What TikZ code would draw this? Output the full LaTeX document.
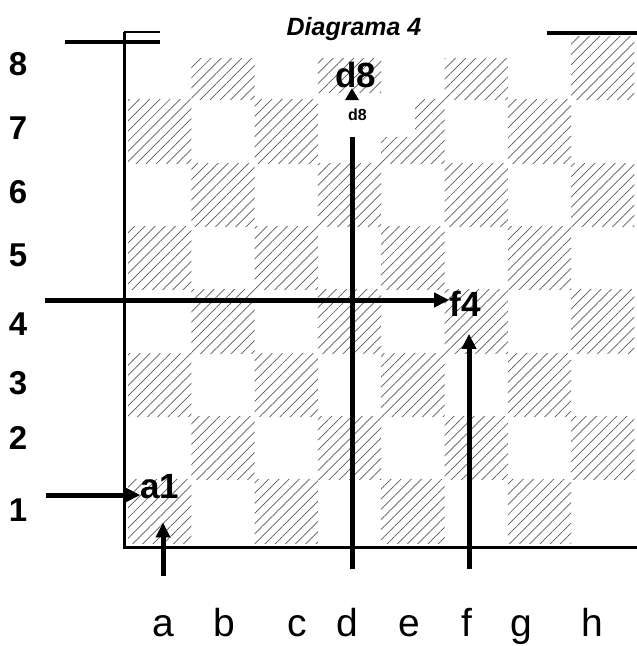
\documentclass[tikz,border=0pt]{standalone}
\usepackage{fontspec}
\setmainfont{Liberation Sans}
\usetikzlibrary{arrows.meta,patterns.meta,positioning}

\begin{document}
\begin{tikzpicture}[x=1pt,y=-1pt,
          sq/.style={pattern={Lines[angle=45,distance=7.2pt,line width=0.7pt]},
                     pattern color=black!65},
          rank/.style={font=\fontsize{33}{36}\selectfont\bfseries,inner sep=0pt},
          file/.style={font=\fontsize{39}{44}\selectfont,inner sep=0pt,anchor=base},
          sqlbl/.style={font=\fontsize{35}{38}\selectfont\bfseries,inner sep=0pt},
          mv/.style={line width=5pt,-{Triangle[length=15pt,width=14pt]}},
          rim/.style={line width=3pt}]
        \useasboundingbox (0,0) rectangle (637,646);
        % squares
        \foreach \c in {1,...,8}
          \foreach \r in {1,...,8}{
            \pgfmathtruncatemacro\odd{mod(\c+\r,2)}
            \ifnum\odd=0
              \fill[sq] ({128+(\c-1)*63.3},{543-\r*63.3}) rectangle ++(63.3,63.3);
            \fi}
        % frame
        \draw[rim] (124,32) -- (124,547) -- (637,547);
        \draw[line width=2pt] (124,32) -- (160,32);
        \draw[line width=4pt] (65,42) -- (160,42);
        \draw[line width=4pt] (546,33) -- (637,33);
        % title
        \node[fill=white,minimum width=386pt,minimum height=58pt,inner sep=0pt,
              font=\fontsize{25}{30}\selectfont\bfseries\itshape] (title) at (354,29) {Diagrama 4};
        % ranks and files
        \foreach \n/\y in {8/64,7/128,6/192,5/255,4/324,3/383,2/438,1/510}
          \node[rank] (r\n) at (18,\y) {\n};
        \foreach \f/\x in {a/163,b/224,c/297,d/347,e/409,f/467,g/521,h/592}
          \node[file] (c\f) at (\x,636) {\f};
        % squares named
        \node[sqlbl] (a1) at (160,487) {a1};
        \node[sqlbl] (f4) at (465,304) {f4};
        \node[sqlbl] (d8) at (356,75) {d8};
        \node[fill=white,anchor=west,inner xsep=30pt,inner ysep=0pt,text width=37pt,
              minimum height=44pt,align=left,
              font=\fontsize{16}{18}\selectfont\bfseries] (dsm) at (318,115) {d8};
        % arrows
        \coordinate (h4) at (45,300);
        \draw[mv] (h4) -- (h4 -| f4.west);
        \coordinate (h1) at (46,495);
        \draw[mv] (h1) -- (h1 -| a1.west);
        \coordinate (abot) at (163,576);
        \draw[mv,shorten >=23pt] (abot) -- (abot |- a1.south);
        \coordinate (fbot) at (469,569);
        \draw[mv,shorten >=17pt] (fbot) -- (fbot |- f4.south);
        \coordinate (dbot) at (352,569);
        \draw[line width=5pt] (dbot) -- (dbot |- dsm.south);
        \draw[line width=5pt,-{Triangle[length=12pt,width=13pt]}] (dbot |- dsm.north) -- (dbot |- d8.south);
      \end{tikzpicture}
\end{document}
